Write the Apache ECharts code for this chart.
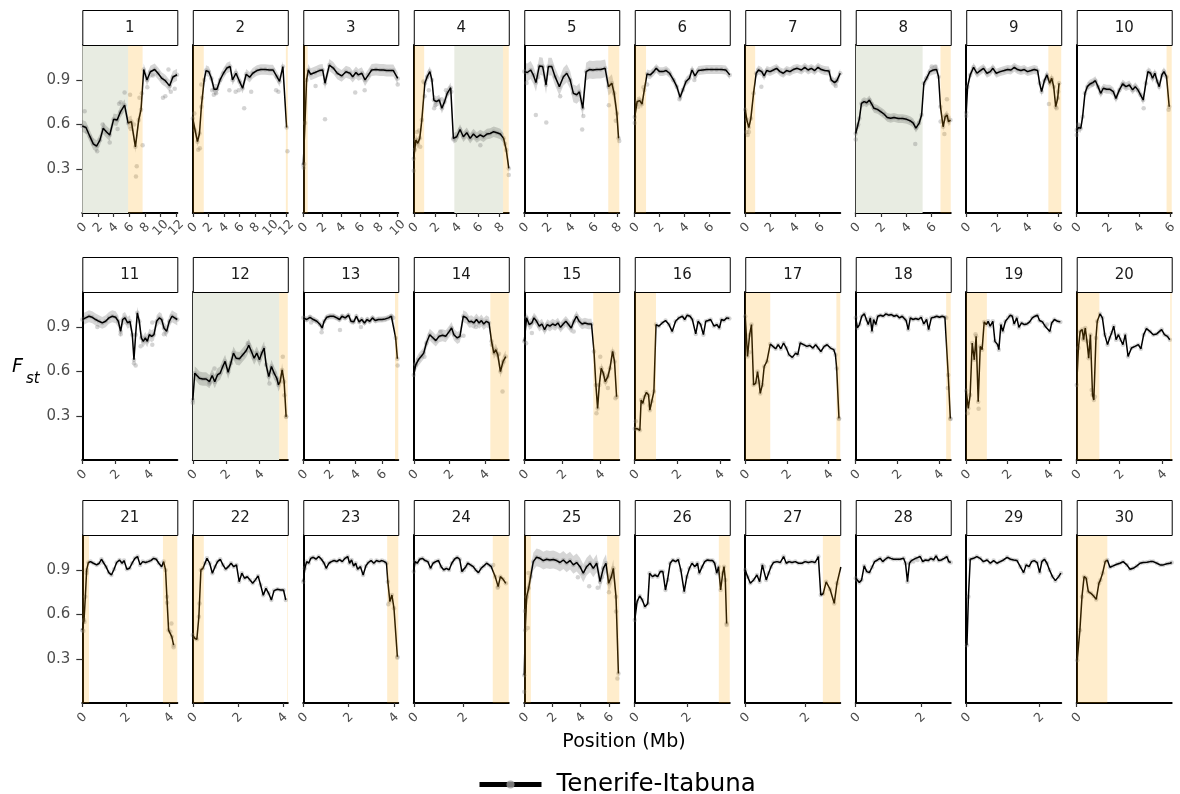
<!DOCTYPE html>
<html>
<head>
<meta charset="utf-8">
<script src="https://cdn.jsdelivr.net/npm/echarts@6/dist/echarts.min.js"></script>
<style>html,body{margin:0;background:#fff}#chart{width:1180px;height:794px}</style>
</head>
<body>
<div id="chart"></div>
<script>
// chromosome panels, lengths in Mb
var chrNames = ['1','2','3','4','5','6','7','8','9','10','11','12','13','14','15','16','17','18','19','20','21','22','23','24','25','26','27','28','29','30'];
var chrLen = [12.13,12.2,10.06,8.85,8.2,7.65,7.66,7.5,6.2,6.1,5.7,5.7,7.25,5.35,5.0,4.47,4.56,4.56,4.6,4.44,4.37,4.22,4.19,3.85,6.73,3.65,3.17,2.92,2.6,1.8];
var yTicks = [0.3, 0.6, 0.9];

// smoothed Fst along each chromosome [Mb, Fst]
var line1 = [[0,0.59],[0.47,0.58],[0.97,0.52],[1.4,0.47],[1.82,0.455],[2.25,0.495],[2.67,0.575],[3.1,0.55],[3.5,0.53],[4.0,0.635],[4.45,0.63],[4.87,0.685],[5.4,0.73],[5.85,0.61],[6.27,0.62],[6.78,0.45],[7.2,0.63],[7.5,0.70],[7.84,0.97],[8.26,0.90],[8.69,0.955],[9.24,0.97],[9.66,0.945],[10.17,0.91],[10.6,0.895],[11.14,0.86],[11.57,0.92],[12.1,0.935]];
var line2 = [[0,0.64],[0.3,0.56],[0.6,0.485],[0.86,0.54],[1.1,0.72],[1.46,0.9],[1.7,0.963],[2.06,0.955],[2.4,0.91],[2.74,0.837],[3.1,0.837],[3.5,0.9],[3.94,0.945],[4.37,0.98],[4.8,0.99],[5.1,0.9],[5.55,0.945],[6.0,0.89],[6.4,0.844],[6.86,0.938],[7.3,0.918],[7.7,0.945],[8.23,0.963],[8.74,0.97],[9.3,0.97],[9.86,0.967],[10.3,0.967],[10.8,0.922],[11.14,0.89],[11.57,0.99],[12.05,0.58]];
var line3 = [[0,0.33],[0.18,0.61],[0.35,0.9],[0.53,0.967],[0.78,0.938],[1.24,0.95],[1.7,0.963],[2.05,0.967],[2.3,0.878],[2.76,1.0],[3.18,0.98],[3.6,0.945],[4.06,0.927],[4.52,0.955],[4.95,0.945],[5.23,0.922],[5.58,0.95],[5.83,0.934],[6.2,0.945],[6.54,0.9],[6.9,0.934],[7.24,0.967],[7.7,0.97],[8.13,0.967],[8.48,0.967],[8.83,0.963],[9.2,0.963],[9.54,0.963],[10.0,0.91]];
var line4 = [[0,0.37],[0.19,0.496],[0.37,0.474],[0.56,0.507],[0.75,0.63],[1.03,0.878],[1.25,0.922],[1.5,0.956],[1.69,0.9],[1.87,0.765],[2.1,0.754],[2.37,0.765],[2.62,0.709],[2.87,0.754],[3.12,0.81],[3.44,0.848],[3.69,0.507],[4.0,0.518],[4.31,0.567],[4.62,0.518],[4.94,0.545],[5.25,0.507],[5.56,0.536],[5.87,0.513],[6.19,0.53],[6.5,0.518],[6.81,0.536],[7.12,0.54],[7.44,0.552],[7.75,0.545],[8.06,0.536],[8.37,0.507],[8.62,0.428],[8.85,0.305]];
var line5 = [[0,0.956],[0.26,0.95],[0.55,0.967],[0.78,0.934],[1.01,0.882],[1.3,0.994],[1.59,0.99],[1.88,0.866],[2.08,0.99],[2.37,0.99],[2.66,0.922],[3.03,0.855],[3.38,0.922],[3.67,0.945],[3.96,0.9],[4.24,0.81],[4.53,0.8],[4.76,0.82],[5.05,0.709],[5.34,0.956],[5.63,0.97],[5.92,0.967],[6.26,0.97],[6.6,0.97],[6.98,0.978],[7.27,0.855],[7.56,0.878],[7.76,0.81],[7.99,0.675],[8.14,0.507]];
var line6 = [[0,0.65],[0.19,0.754],[0.4,0.761],[0.59,0.738],[0.77,0.833],[0.99,0.94],[1.25,0.934],[1.52,0.956],[1.73,0.978],[2.0,0.956],[2.27,0.956],[2.53,0.963],[2.8,0.945],[3.12,0.9],[3.39,0.855],[3.65,0.783],[3.87,0.833],[4.13,0.889],[4.4,0.911],[4.61,0.967],[4.85,0.927],[5.12,0.963],[5.47,0.967],[5.79,0.97],[6.19,0.97],[6.59,0.97],[6.99,0.97],[7.33,0.967],[7.65,0.934]];
var line7 = [[0,0.70],[0.13,0.63],[0.29,0.58],[0.45,0.64],[0.67,0.81],[0.88,0.945],[1.07,0.967],[1.33,0.956],[1.52,0.927],[1.73,0.963],[2.0,0.956],[2.27,0.967],[2.53,0.978],[2.8,0.956],[3.07,0.945],[3.33,0.963],[3.6,0.956],[3.87,0.97],[4.19,0.978],[4.53,0.967],[4.8,0.985],[5.07,0.967],[5.33,0.978],[5.6,0.963],[5.87,0.985],[6.13,0.97],[6.4,0.963],[6.75,0.96],[6.93,0.90],[7.2,0.882],[7.39,0.895],[7.66,0.945]];
var line8 = [[0,0.54],[0.13,0.585],[0.29,0.64],[0.45,0.742],[0.66,0.754],[0.87,0.747],[1.08,0.765],[1.26,0.738],[1.44,0.709],[1.71,0.702],[1.97,0.687],[2.23,0.671],[2.49,0.648],[2.76,0.642],[3.02,0.648],[3.36,0.64],[3.7,0.64],[4.02,0.635],[4.33,0.624],[4.54,0.61],[4.75,0.576],[5.01,0.61],[5.2,0.664],[5.38,0.878],[5.59,0.911],[5.85,0.956],[6.12,0.967],[6.38,0.97],[6.54,0.922],[6.69,0.72],[6.9,0.585],[7.06,0.652],[7.22,0.664],[7.32,0.62],[7.48,0.63]];
var line9 = [[0,0.68],[0.09,0.855],[0.26,0.934],[0.48,0.985],[0.7,0.945],[0.92,0.963],[1.13,0.978],[1.35,0.945],[1.57,0.956],[1.74,0.978],[1.96,0.945],[2.22,0.956],[2.48,0.963],[2.7,0.97],[2.92,0.967],[3.14,0.985],[3.35,0.97],[3.57,0.963],[3.79,0.97],[4.0,0.956],[4.23,0.963],[4.44,0.97],[4.66,0.963],[4.79,0.878],[4.92,0.821],[5.1,0.895],[5.27,0.934],[5.45,0.878],[5.58,0.911],[5.71,0.855],[5.84,0.72],[5.97,0.776],[6.06,0.878]];
var line10 = [[0,0.563],[0.13,0.58],[0.26,0.574],[0.38,0.653],[0.53,0.81],[0.68,0.855],[0.85,0.873],[1.03,0.882],[1.2,0.895],[1.37,0.855],[1.54,0.81],[1.71,0.844],[1.92,0.837],[2.14,0.837],[2.35,0.821],[2.52,0.776],[2.74,0.833],[2.95,0.873],[3.16,0.855],[3.38,0.866],[3.59,0.833],[3.76,0.855],[3.93,0.833],[4.1,0.8],[4.27,0.765],[4.44,0.878],[4.57,0.956],[4.74,0.945],[4.87,0.911],[5.02,0.945],[5.17,0.889],[5.3,0.855],[5.47,0.934],[5.6,0.956],[5.77,0.922],[5.94,0.72]];
var line11 = [[0,0.95],[0.2,0.961],[0.4,0.972],[0.6,0.965],[0.8,0.95],[1.0,0.938],[1.2,0.927],[1.4,0.938],[1.6,0.961],[1.8,0.972],[2.0,0.965],[2.16,0.938],[2.3,0.87],[2.42,0.95],[2.56,0.961],[2.72,0.927],[2.86,0.938],[3.0,0.848],[3.1,0.679],[3.2,0.848],[3.3,0.995],[3.42,0.938],[3.54,0.826],[3.66,0.803],[3.78,0.826],[3.9,0.803],[4.02,0.848],[4.16,0.837],[4.3,0.848],[4.46,0.938],[4.62,0.961],[4.76,0.95],[4.9,0.893],[5.06,0.87],[5.22,0.938],[5.38,0.972],[5.54,0.961],[5.7,0.95]];
var line12 = [[0,0.408],[0.12,0.589],[0.24,0.577],[0.4,0.555],[0.6,0.55],[0.8,0.55],[1.0,0.532],[1.16,0.573],[1.32,0.532],[1.48,0.577],[1.64,0.589],[1.8,0.634],[1.94,0.668],[2.12,0.595],[2.28,0.656],[2.44,0.724],[2.6,0.69],[2.8,0.686],[3.0,0.713],[3.2,0.74],[3.36,0.776],[3.52,0.735],[3.68,0.69],[3.84,0.724],[4.0,0.679],[4.14,0.724],[4.28,0.758],[4.4,0.645],[4.56,0.566],[4.72,0.634],[4.88,0.589],[5.04,0.555],[5.14,0.51],[5.24,0.532],[5.36,0.611],[5.48,0.532],[5.6,0.295]];
var line13 = [[0,0.961],[0.26,0.95],[0.51,0.965],[0.77,0.95],[1.03,0.938],[1.28,0.916],[1.44,0.893],[1.59,0.938],[1.79,0.965],[2.05,0.972],[2.31,0.972],[2.56,0.961],[2.77,0.95],[2.95,0.972],[3.2,0.961],[3.46,0.979],[3.64,0.938],[3.85,0.934],[4.05,0.972],[4.26,0.934],[4.46,0.95],[4.67,0.927],[4.87,0.95],[5.08,0.938],[5.28,0.961],[5.49,0.943],[5.74,0.95],[6.0,0.95],[6.26,0.954],[6.51,0.961],[6.72,0.972],[6.87,0.961],[7.05,0.826],[7.18,0.686]];
var line14 = [[0,0.577],[0.11,0.645],[0.26,0.679],[0.41,0.701],[0.56,0.724],[0.71,0.792],[0.9,0.848],[1.09,0.826],[1.24,0.808],[1.43,0.837],[1.62,0.844],[1.8,0.837],[2.0,0.87],[2.13,0.893],[2.26,0.848],[2.45,0.826],[2.6,0.837],[2.79,0.972],[2.97,0.961],[3.12,0.934],[3.25,0.938],[3.38,0.927],[3.53,0.95],[3.68,0.927],[3.81,0.943],[3.94,0.92],[4.09,0.938],[4.24,0.927],[4.38,0.803],[4.51,0.724],[4.62,0.747],[4.73,0.713],[4.88,0.6],[5.03,0.668],[5.18,0.701]];
var line15 = [[0,0.803],[0.12,0.961],[0.26,0.916],[0.4,0.927],[0.51,0.961],[0.65,0.938],[0.79,0.905],[0.93,0.92],[1.07,0.882],[1.21,0.916],[1.35,0.905],[1.49,0.92],[1.63,0.91],[1.77,0.927],[1.91,0.897],[2.05,0.92],[2.19,0.938],[2.33,0.916],[2.47,0.893],[2.61,0.938],[2.75,0.972],[2.89,0.938],[3.04,0.92],[3.19,0.927],[3.37,0.92],[3.54,0.92],[3.67,0.735],[3.77,0.51],[3.86,0.352],[3.95,0.51],[4.05,0.622],[4.16,0.589],[4.26,0.532],[4.4,0.566],[4.51,0.622],[4.65,0.735],[4.75,0.668],[4.86,0.43]];
var line16 = [[0,0.216],[0.11,0.216],[0.24,0.205],[0.3,0.408],[0.38,0.386],[0.46,0.431],[0.55,0.46],[0.65,0.442],[0.71,0.34],[0.8,0.4],[0.9,0.465],[1.0,0.916],[1.13,0.905],[1.29,0.927],[1.45,0.943],[1.61,0.916],[1.76,0.87],[1.92,0.938],[2.08,0.961],[2.24,0.972],[2.35,0.95],[2.47,0.979],[2.6,0.972],[2.71,0.95],[2.87,0.853],[2.98,0.938],[3.1,0.916],[3.23,0.848],[3.34,0.938],[3.46,0.943],[3.57,0.95],[3.73,0.905],[3.86,0.916],[3.98,0.893],[4.08,0.95],[4.2,0.943],[4.33,0.961],[4.45,0.957]];
var line17 = [[0,0.972],[0.11,0.701],[0.21,0.848],[0.3,0.916],[0.4,0.51],[0.5,0.521],[0.59,0.6],[0.66,0.532],[0.72,0.453],[0.82,0.51],[0.91,0.634],[1.04,0.668],[1.2,0.785],[1.33,0.769],[1.46,0.753],[1.58,0.781],[1.71,0.753],[1.84,0.792],[1.97,0.758],[2.1,0.713],[2.26,0.695],[2.42,0.724],[2.52,0.713],[2.64,0.792],[2.8,0.781],[2.96,0.769],[3.09,0.776],[3.25,0.758],[3.38,0.781],[3.5,0.758],[3.63,0.735],[3.79,0.769],[3.93,0.78],[4.09,0.758],[4.25,0.747],[4.33,0.713],[4.39,0.62],[4.5,0.285]];
var line18 = [[0,0.961],[0.08,0.893],[0.18,0.916],[0.29,0.972],[0.41,0.988],[0.51,0.95],[0.6,0.916],[0.7,0.961],[0.78,0.87],[0.86,0.95],[0.96,0.916],[1.06,0.972],[1.19,0.979],[1.32,0.972],[1.45,0.988],[1.58,0.979],[1.71,0.983],[1.84,0.972],[1.97,0.979],[2.1,0.961],[2.23,0.972],[2.33,0.957],[2.42,0.943],[2.52,0.882],[2.62,0.961],[2.75,0.95],[2.88,0.957],[3.01,0.95],[3.14,0.965],[3.27,0.92],[3.4,0.95],[3.5,0.882],[3.63,0.961],[3.76,0.965],[3.89,0.972],[4.02,0.965],[4.15,0.972],[4.28,0.965],[4.35,0.961],[4.44,0.577],[4.54,0.284]];
var line19 = [[0,0.47],[0.1,0.352],[0.19,0.442],[0.29,0.792],[0.39,0.679],[0.48,0.837],[0.58,0.397],[0.68,0.769],[0.77,0.747],[0.87,0.934],[0.97,0.916],[1.06,0.938],[1.16,0.905],[1.29,0.938],[1.39,0.803],[1.52,0.781],[1.58,0.747],[1.68,0.916],[1.77,0.87],[1.9,0.938],[2.03,0.961],[2.13,0.979],[2.23,0.972],[2.32,0.92],[2.45,0.961],[2.55,0.897],[2.68,0.927],[2.81,0.916],[2.94,0.92],[3.07,0.934],[3.2,0.961],[3.33,0.972],[3.45,0.979],[3.55,0.943],[3.69,0.934],[3.82,0.905],[3.91,0.916],[4.05,0.87],[4.14,0.927],[4.27,0.95],[4.43,0.938],[4.56,0.934]];
var line20 = [[0,0.51],[0.08,0.758],[0.16,0.87],[0.26,0.882],[0.32,0.814],[0.4,0.893],[0.48,0.803],[0.56,0.69],[0.64,0.848],[0.74,0.442],[0.8,0.408],[0.9,0.826],[0.96,0.938],[1.09,0.988],[1.2,0.961],[1.31,0.848],[1.44,0.781],[1.54,0.826],[1.63,0.859],[1.73,0.905],[1.84,0.814],[1.95,0.848],[2.05,0.814],[2.16,0.781],[2.27,0.848],[2.4,0.701],[2.56,0.758],[2.72,0.769],[2.88,0.781],[3.0,0.753],[3.13,0.848],[3.26,0.889],[3.42,0.87],[3.58,0.848],[3.74,0.853],[3.87,0.87],[3.97,0.882],[4.1,0.848],[4.24,0.837],[4.35,0.814]];
var line21 = [[0,0.495],[0.08,0.563],[0.14,0.72],[0.2,0.9],[0.28,0.95],[0.38,0.956],[0.51,0.945],[0.66,0.934],[0.78,0.945],[0.88,0.972],[0.97,0.95],[1.09,0.922],[1.22,0.882],[1.34,0.866],[1.46,0.905],[1.58,0.95],[1.71,0.967],[1.83,0.945],[1.92,0.963],[2.05,0.905],[2.17,0.911],[2.29,0.945],[2.42,0.978],[2.54,0.99],[2.66,0.934],[2.78,0.956],[2.91,0.95],[3.03,0.956],[3.15,0.963],[3.28,0.978],[3.4,0.972],[3.52,0.945],[3.65,0.922],[3.74,0.956],[3.83,0.9],[3.89,0.72],[3.97,0.495],[4.05,0.484],[4.12,0.45],[4.2,0.394]];
var line22 = [[0,0.462],[0.09,0.44],[0.18,0.433],[0.27,0.585],[0.36,0.9],[0.45,0.911],[0.54,0.945],[0.63,0.978],[0.75,0.945],[0.87,0.878],[0.99,0.922],[1.1,0.956],[1.22,0.972],[1.34,0.934],[1.46,0.905],[1.58,0.922],[1.7,0.945],[1.82,0.922],[1.94,0.934],[2.06,0.821],[2.18,0.878],[2.3,0.844],[2.42,0.855],[2.54,0.833],[2.66,0.81],[2.78,0.833],[2.9,0.86],[3.01,0.8],[3.13,0.73],[3.25,0.776],[3.37,0.743],[3.49,0.698],[3.61,0.761],[3.76,0.77],[3.91,0.765],[4.03,0.765],[4.13,0.698]];
var line23 = [[0,0.821],[0.07,0.911],[0.15,0.956],[0.24,0.945],[0.33,0.978],[0.44,0.985],[0.56,0.972],[0.68,0.99],[0.8,0.972],[0.92,0.945],[1.01,0.911],[1.13,0.945],[1.24,0.956],[1.36,0.963],[1.48,0.956],[1.6,0.97],[1.72,0.956],[1.84,0.978],[1.96,0.99],[2.04,0.945],[2.13,0.967],[2.22,0.927],[2.31,0.945],[2.4,0.905],[2.52,0.922],[2.64,0.866],[2.76,0.927],[2.87,0.95],[2.99,0.963],[3.11,0.945],[3.23,0.963],[3.35,0.956],[3.47,0.963],[3.58,0.956],[3.67,0.945],[3.73,0.821],[3.82,0.687],[3.91,0.731],[4.0,0.642],[4.15,0.316]];
var line24 = [[0,0.889],[0.05,0.956],[0.14,0.945],[0.24,0.972],[0.35,0.978],[0.46,0.963],[0.57,0.956],[0.68,0.911],[0.78,0.945],[0.89,0.956],[1.0,0.963],[1.11,0.922],[1.22,0.9],[1.32,0.911],[1.43,0.9],[1.54,0.945],[1.65,0.972],[1.76,0.985],[1.86,0.972],[1.95,0.889],[2.03,0.9],[2.11,0.922],[2.19,0.945],[2.3,0.934],[2.41,0.922],[2.51,0.9],[2.62,0.882],[2.73,0.911],[2.84,0.927],[2.95,0.945],[3.05,0.934],[3.14,0.922],[3.22,0.934],[3.3,0.855],[3.42,0.788],[3.51,0.855],[3.62,0.837],[3.73,0.81]];
var line25 = [[0,0.192],[0.07,0.495],[0.17,0.72],[0.31,0.776],[0.45,0.855],[0.64,0.956],[0.87,0.985],[1.11,0.978],[1.35,0.963],[1.58,0.972],[1.82,0.967],[2.06,0.97],[2.29,0.963],[2.53,0.95],[2.77,0.967],[3.0,0.945],[3.24,0.963],[3.48,0.934],[3.71,0.95],[3.95,0.922],[4.18,0.878],[4.42,0.922],[4.66,0.945],[4.89,0.911],[5.13,0.945],[5.37,0.821],[5.6,0.911],[5.79,0.945],[5.98,0.81],[6.17,0.855],[6.31,0.911],[6.5,0.72],[6.67,0.203]];
var line26 = [[0,0.563],[0.09,0.687],[0.19,0.725],[0.29,0.698],[0.39,0.653],[0.5,0.675],[0.57,0.878],[0.68,0.855],[0.78,0.866],[0.88,0.855],[0.98,0.889],[1.08,0.889],[1.18,0.765],[1.26,0.833],[1.36,0.945],[1.46,0.967],[1.57,0.956],[1.67,0.97],[1.77,0.9],[1.9,0.754],[2.0,0.855],[2.1,0.911],[2.2,0.945],[2.31,0.922],[2.41,0.945],[2.48,0.878],[2.59,0.922],[2.69,0.956],[2.79,0.967],[2.89,0.963],[2.99,0.963],[3.07,0.945],[3.15,0.878],[3.22,0.922],[3.3,0.765],[3.38,0.878],[3.43,0.922],[3.48,0.833],[3.53,0.54]];
var line27 = [[0,0.9],[0.08,0.855],[0.17,0.81],[0.28,0.833],[0.39,0.866],[0.48,0.821],[0.57,0.934],[0.63,0.922],[0.7,0.833],[0.78,0.878],[0.86,0.922],[0.94,0.95],[1.06,0.956],[1.17,0.95],[1.28,0.99],[1.37,0.945],[1.46,0.956],[1.56,0.95],[1.67,0.956],[1.78,0.945],[1.89,0.945],[2.0,0.956],[2.11,0.95],[2.22,0.956],[2.33,0.95],[2.44,0.99],[2.52,0.731],[2.6,0.74],[2.7,0.82],[2.83,0.77],[2.97,0.675],[3.06,0.81],[3.19,0.92]];
var line28 = [[0,0.844],[0.05,0.833],[0.11,0.815],[0.18,0.833],[0.26,0.927],[0.34,0.889],[0.42,0.882],[0.5,0.918],[0.58,0.956],[0.67,0.967],[0.75,0.978],[0.83,0.956],[0.91,0.972],[0.99,0.985],[1.08,0.978],[1.16,0.972],[1.26,0.972],[1.36,0.972],[1.47,0.978],[1.53,0.945],[1.59,0.821],[1.65,0.945],[1.71,0.963],[1.77,0.956],[1.84,0.978],[1.9,0.967],[1.98,0.99],[2.06,0.956],[2.14,0.967],[2.23,0.963],[2.31,0.978],[2.39,0.967],[2.47,0.994],[2.55,0.963],[2.63,0.967],[2.72,0.978],[2.8,0.99],[2.86,0.956],[2.92,0.95]];
var line29 = [[0.02,0.394],[0.06,0.72],[0.11,0.972],[0.2,0.978],[0.29,0.99],[0.38,0.978],[0.47,0.956],[0.57,0.967],[0.66,0.945],[0.75,0.963],[0.84,0.945],[0.93,0.956],[1.02,0.967],[1.12,0.985],[1.21,0.972],[1.3,0.967],[1.39,0.963],[1.48,0.922],[1.57,0.882],[1.64,0.934],[1.72,0.922],[1.79,0.956],[1.86,0.963],[1.94,0.95],[2.01,0.882],[2.07,0.956],[2.14,0.972],[2.21,0.945],[2.28,0.9],[2.36,0.855],[2.44,0.828],[2.53,0.855],[2.59,0.878]];
var line30 = [[0.01,0.293],[0.06,0.495],[0.1,0.72],[0.14,0.855],[0.18,0.844],[0.22,0.754],[0.27,0.743],[0.32,0.725],[0.37,0.702],[0.42,0.81],[0.45,0.833],[0.49,0.878],[0.54,0.956],[0.58,0.967],[0.63,0.918],[0.69,0.927],[0.76,0.938],[0.82,0.945],[0.88,0.956],[0.95,0.934],[1.01,0.905],[1.07,0.911],[1.14,0.927],[1.2,0.945],[1.26,0.95],[1.33,0.952],[1.39,0.956],[1.45,0.956],[1.52,0.945],[1.58,0.934],[1.64,0.934],[1.71,0.941],[1.77,0.945],[1.8,0.95]];

// individual window values lying off the smoothed line
var dots1 = [[0.3,0.69],[6.95,0.32],[6.85,0.25],[7.7,0.46],[7.6,0.81],[7.3,0.78],[5.4,0.815],[4.7,0.74],[1.9,0.42],[10.3,0.78],[10.6,0.79],[11.3,0.82],[8.3,0.85],[11.8,0.84],[4.5,0.57],[3.5,0.48],[6.2,0.57],[6.6,0.6],[6.1,0.8],[4.9,0.75],[0.6,0.55],[1.2,0.5],[2.6,0.6],[9.0,0.93],[11.0,0.97]];
var dots2 = [[0.2,0.675],[0.7,0.43],[0.9,0.44],[1.2,0.78],[1.1,0.87],[6.6,0.71],[2.7,0.8],[3.0,0.81],[5.5,0.82],[7.5,0.82],[12.15,0.42],[11.0,0.82],[10.7,0.83],[5.9,0.83],[4.7,0.83],[2.5,0.83]];
var dots3 = [[0.05,0.31],[0.1,0.335],[2.3,0.635],[5.5,0.815],[6.5,0.83],[1.3,0.86],[10.0,0.87]];
var dots4 = [[0,0.289],[0.1,0.43],[0.3,0.55],[0.5,0.56],[0.6,0.45],[1.0,0.79],[0.9,0.89],[1.9,0.71],[2.0,0.73],[2.6,0.77],[3.0,0.83],[3.5,0.82],[3.7,0.5],[8.85,0.26],[8.5,0.47],[6.2,0.46],[1.4,0.83]];
var dots5 = [[1.0,0.664],[1.9,0.613],[5.1,0.657],[5.0,0.567],[7.3,0.73],[7.9,0.626],[8.2,0.49],[3.1,0.79],[0.2,0.88],[1.2,0.92]];
var dots6 = [[0,0.61],[0.3,0.72],[0.7,0.85],[1.0,0.87],[3.6,0.77],[4.8,0.9]];
var dots7 = [[0.1,0.55],[0.2,0.53],[0.3,0.55],[1.3,0.855],[7.3,0.86]];
var dots8 = [[0,0.5],[0.2,0.6],[4.7,0.469],[7.0,0.536],[7.2,0.77],[7.1,0.66],[6.7,0.62],[6.3,0.99],[6.0,0.99]];
var dots9 = [[0,0.657],[5.4,0.738],[5.6,0.9],[5.9,0.71],[6.0,0.82],[5.3,0.91]];
var dots10 = [[0,0.53],[0.1,0.6],[4.3,0.71],[5.9,0.7],[1.0,0.87],[3.0,0.87]];
var dots11 = [[3.1,0.656],[3.2,0.64],[2.3,0.85],[0.9,0.9],[3.5,0.77],[4.2,0.78],[4.9,0.85],[4.2,0.93]];
var dots12 = [[0,0.39],[5.4,0.70],[5.5,0.44],[5.6,0.3],[1.0,0.52],[1.3,0.62],[3.3,0.79],[4.6,0.52]];
var dots13 = [[1.4,0.864],[2.8,0.88],[4.4,0.9],[7.2,0.64],[0.6,0.93]];
var dots14 = [[0.1,0.65],[0.6,0.7],[5.0,0.465],[4.8,0.72],[4.4,0.78],[1.5,0.87],[2.8,0.84],[3.5,0.9]];
var dots15 = [[3.8,0.32],[4.0,0.7],[4.4,0.49],[4.7,0.72],[4.8,0.42],[0.1,0.79],[0.4,0.86],[2.6,0.87]];
var dots16 = [[0.05,0.266],[0.7,0.37]];
var dots17 = [[0.2,0.73],[4.5,0.28]];
var dots18 = [[4.42,0.49],[4.55,0.28]];
var dots19 = [[0.07,0.32],[0.6,0.35],[0.45,0.85]];
var dots20 = [[0.3,0.82],[0.7,0.476],[0.85,0.43]];
var dots21 = [[0.05,0.49],[0.1,0.55],[3.9,0.68],[4.1,0.54],[4.2,0.38],[0.2,0.88]];
var dots22 = [[0.3,0.675]];
var dots23 = [[3.75,0.67],[4.15,0.31]];
var dots24 = [[3.4,0.78]];
var dots25 = [[0,0.08],[0.05,0.624],[0.25,0.51],[0.3,0.88],[6.6,0.17],[6.5,0.62],[6.0,0.75],[5.2,0.78],[4.6,0.79],[3.8,0.85],[5.5,0.85]];
var dots26 = [[3.53,0.53]];
var dots27 = [];
var dots28 = [];
var dots29 = [];
var dots30 = [];

// half width of the grey confidence ribbon, per panel (0 = not visible)
var bandHalf = [0.04,0.035,0.04,0.035,0.06,0.03,0.03,0.03,0.03,0.03,0.04,0.045,0.02,0.04,0.035,0,0,0,0,0,0,0,0,0,0.06,0,0,0,0,0];

// highlighted regions [start, end] in Mb
var orangeZones = [
  [[5.85,7.7]], [[0,1.41],[11.95,12.2]], [[0,0.47]], [[0,0.97],[8.32,8.85]], [[7.25,8.2]],
  [[0,0.91]], [[0,0.8]], [[6.69,7.5]], [[5.36,6.2]], [[5.77,6.1]],
  [], [[5.18,5.7]], [[7.0,7.25]], [[4.31,5.35]], [[3.63,5.0]],
  [[0,1.0]], [[0,1.2],[4.375,4.56]], [[4.34,4.56]], [[0,1.0]], [[0,1.06],[4.37,4.44]],
  [[0,0.31],[3.71,4.37]], [[0,0.49],[4.19,4.22]], [[3.7,4.19]], [[3.2,3.85]], [[0,0.47],[5.87,6.73]],
  [[3.23,3.65]], [[2.59,3.17]], [], [], [[0,0.58]]
];
var greenZones = [
  [[0,5.85]], [], [], [[3.78,8.32]], [], [], [], [[0,5.28]], [], [],
  [], [[0,5.18]], [], [], [], [], [], [], [], [],
  [], [], [], [], [], [], [], [], [], []
];

var lines = [line1,line2,line3,line4,line5,line6,line7,line8,line9,line10,line11,line12,line13,line14,line15,line16,line17,line18,line19,line20,line21,line22,line23,line24,line25,line26,line27,line28,line29,line30];
var dots = [dots1,dots2,dots3,dots4,dots5,dots6,dots7,dots8,dots9,dots10,dots11,dots12,dots13,dots14,dots15,dots16,dots17,dots18,dots19,dots20,dots21,dots22,dots23,dots24,dots25,dots26,dots27,dots28,dots29,dots30];

var Y_MIN = 0.005, Y_MAX = 1.135;
var rowTop = [45, 292, 535];
var stripTop = [10, 257, 500];
var plotH = 168, plotW = 95;
var FONT = 'DejaVu Sans';

var myChart = echarts.init(document.getElementById('chart'));

function zoneRender(color) {
  return function (params, api) {
    var p0 = api.coord([api.value(0), Y_MAX]);
    var p1 = api.coord([api.value(1), Y_MIN]);
    return {type: 'rect', shape: {x: p0[0], y: p0[1], width: p1[0] - p0[0], height: p1[1] - p0[1]}, style: {fill: color}};
  };
}
function bandRender(pts, half) {
  return function (params, api) {
    if (params.dataIndex !== 0) return null;
    var up = [], lo = [];
    for (var k = 0; k < pts.length; k++) {
      up.push(api.coord([pts[k][0], pts[k][1] + half]));
      lo.unshift(api.coord([pts[k][0], pts[k][1] - half]));
    }
    return {type: 'polygon', shape: {points: up.concat(lo)}, style: {fill: 'rgba(0,0,0,0.16)'}};
  };
}

var grids = [], xAxes = [], yAxes = [], series = [], graphics = [];
for (var i = 0; i < 30; i++) {
  var r = Math.floor(i / 10), c = i % 10;
  var left = 82.3 + c * 110.49;
  grids.push({left: left, top: rowTop[r], width: plotW, height: plotH});
  var ticks = [];
  for (var t = 0; t <= chrLen[i] + 1e-9; t += 2) ticks.push(t);
  // a blank label at the axis end keeps ECharts' end-label overlap check off the real labels
  var labelVals = ticks.concat([chrLen[i]]);
  xAxes.push({
    gridIndex: i, type: 'value', min: 0, max: chrLen[i],
    axisLine: {onZero: false, lineStyle: {color: '#000', width: 2}},
    axisTick: {customValues: ticks, length: 4, lineStyle: {color: '#333', width: 1.2}},
    axisLabel: {customValues: labelVals, rotate: 45, fontSize: 12.5, lineHeight: 9, color: '#4d4d4d', margin: 15,
      showMinLabel: true, showMaxLabel: false, hideOverlap: false,
      formatter: function (v) { return Math.abs(v - Math.round(v)) < 1e-6 && Math.round(v) % 2 === 0 ? String(Math.round(v)) : ''; },
      align: 'center', verticalAlign: 'middle', fontFamily: FONT},
    splitLine: {show: false}
  });
  yAxes.push({
    gridIndex: i, type: 'value', min: Y_MIN, max: Y_MAX,
    axisLine: {show: true, onZero: false, lineStyle: {color: '#000', width: 2}},
    axisTick: {show: c === 0, customValues: yTicks, length: 6, lineStyle: {color: '#333', width: 1.2}},
    axisLabel: {show: c === 0, customValues: yTicks, fontSize: 15, color: '#4d4d4d', margin: 12, fontFamily: FONT,
      formatter: function (v) { return v.toFixed(1); }},
    splitLine: {show: false}
  });
  if (greenZones[i].length) {
    series.push({type: 'custom', xAxisIndex: i, yAxisIndex: i, z: 1, silent: true, clip: true,
      data: greenZones[i].map(function (g) { return [g[0], g[1], 0.5]; }),
      encode: {x: [0, 1], y: 2}, renderItem: zoneRender('#e8ece2')});
  }
  if (bandHalf[i] > 0) {
    series.push({type: 'custom', xAxisIndex: i, yAxisIndex: i, z: 2, silent: true, clip: true,
      data: lines[i], renderItem: bandRender(lines[i], bandHalf[i])});
  }
  // points at each window plus the scattered ones, drawn under the line
  series.push({type: 'scatter', xAxisIndex: i, yAxisIndex: i, z: 3, silent: true,
    data: dots[i].concat(lines[i]), symbolSize: 4.5, itemStyle: {color: 'rgba(120,120,120,0.4)'}});
  series.push({type: 'line', name: 'Tenerife-Itabuna', xAxisIndex: i, yAxisIndex: i, z: 4, silent: true,
    data: lines[i], showSymbol: false, symbol: 'circle', symbolSize: 4,
    itemStyle: {color: 'rgba(150,150,150,0.8)'},
    lineStyle: {color: '#000', width: 1.5}});
  if (orangeZones[i].length) {
    series.push({type: 'custom', xAxisIndex: i, yAxisIndex: i, z: 6, silent: true, clip: true,
      data: orangeZones[i].map(function (g) { return [g[0], g[1], 0.5]; }),
      encode: {x: [0, 1], y: 2}, renderItem: zoneRender('rgba(255,165,0,0.2)')});
  }
  graphics.push({type: 'rect', left: left, top: stripTop[r], shape: {width: plotW, height: 35},
    style: {fill: '#fff', stroke: '#000', lineWidth: 1}, z: 10});
  graphics.push({type: 'text', x: left + plotW / 2, y: stripTop[r] + 18, z: 11,
    style: {text: chrNames[i], fill: '#1a1a1a', font: '15px ' + FONT, align: 'center', verticalAlign: 'middle', textAlign: 'center', textVerticalAlign: 'middle'}});
}

graphics.push({type: 'text', x: 12, y: 367, z: 11,
  style: {text: 'F', fill: '#000', font: 'italic 19px ' + FONT, verticalAlign: 'middle', textVerticalAlign: 'middle'}});
graphics.push({type: 'text', x: 26, y: 379, z: 11,
  style: {text: 'st', fill: '#000', font: 'italic 15px ' + FONT, verticalAlign: 'middle', textVerticalAlign: 'middle'}});
graphics.push({type: 'text', x: 624, y: 742, z: 11,
  style: {text: 'Position (Mb)', fill: '#000', font: '19px ' + FONT, align: 'center', verticalAlign: 'middle', textAlign: 'center', textVerticalAlign: 'middle'}});

var option = {
  backgroundColor: '#fff',
  animation: false,
  grid: grids,
  xAxis: xAxes,
  yAxis: yAxes,
  legend: {
    data: ['Tenerife-Itabuna'], left: 472, top: 767,
    itemWidth: 62, itemHeight: 10, itemGap: 10,
    lineStyle: {width: 5, color: '#000'},
    textStyle: {fontSize: 24.5, color: '#000', fontFamily: FONT, padding: [0, 0, 0, 10]}
  },
  graphic: graphics,
  series: series
};
myChart.setOption(option);
</script>
</body>
</html>
